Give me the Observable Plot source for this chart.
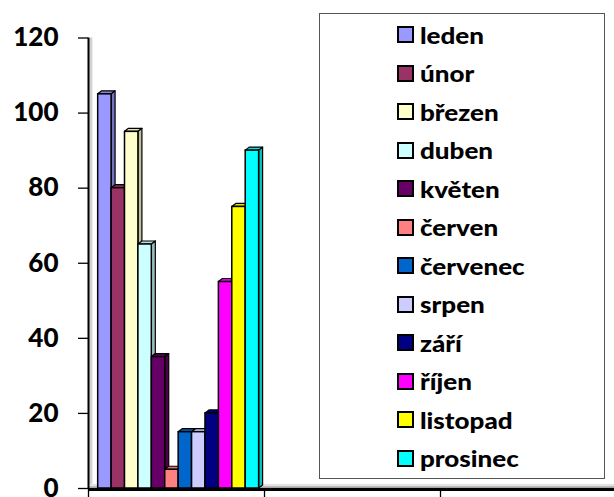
<!DOCTYPE html>
<html><head><meta charset="utf-8">
<script src="https://cdn.jsdelivr.net/npm/d3@7"></script>
<script src="https://cdn.jsdelivr.net/npm/@observablehq/plot@0.6"></script>
<style>
body{margin:0;background:#fff;}
#wrap{position:relative;width:614px;height:497px;overflow:hidden;font-family:Lato, sans-serif;}
#chart{position:absolute;left:0;top:0;}
#legend{position:absolute;left:319px;top:13px;width:286px;height:466px;border:1.5px solid #555;box-sizing:border-box;background:#fff;}
.item{position:absolute;left:77px;height:22px;display:flex;align-items:center;font-weight:900;font-size:23px;color:#000;white-space:nowrap;}
.sw{width:13px;height:13px;border:2px solid #000;margin-right:6px;flex:none;}
.tx{display:inline-block;transform:scaleX(1.13);transform-origin:left center;}
</style></head><body>
<div id="wrap"><div id="chart"></div><div id="legend"></div></div>
<script>
const months = ["leden","únor","březen","duben","květen","červen","červenec","srpen","září","říjen","listopad","prosinec"];
const values = [105, 80, 95, 65, 35, 5, 15, 15, 20, 55, 75, 90];
const colors = ["#9999FF","#993366","#FFFFCC","#CCFFFF","#660066","#FF8080","#0066CC","#CCCCFF","#000080","#FF00FF","#FFFF00","#00FFFF"];
const yTicks = [0, 20, 40, 60, 80, 100, 120];
const groupTicks = [0, 1, 2, 3];

// layout (in x units: one category = 1)
const start = 0.055, bw = 0.0762, depthX = 0.0227, depthY = 0.8;

const bars = months.map((m, i) => ({
  month: m, value: values[i], color: colors[i],
  side: d3.color(colors[i]).darker(0.8).formatHex(),
  top: d3.color(colors[i]).darker(0.35).formatHex(),
  x1: start + i * bw, x2: start + (i + 1) * bw
}));
const sidePts = bars.flatMap(b => [
  {month: b.month, fill: b.side, x: b.x2, y1: 0, y2: b.value},
  {month: b.month, fill: b.side, x: b.x2 + depthX, y1: depthY, y2: b.value + depthY}
]);
const topPts = bars.flatMap(b => [
  {month: b.month, fill: b.top, y: b.value, x1: b.x1, x2: b.x2},
  {month: b.month, fill: b.top, y: b.value + depthY, x1: b.x1 + depthX, x2: b.x2 + depthX}
]);

const chart = Plot.plot({
  width: 614, height: 497,
  marginLeft: 88, marginRight: -2, marginTop: 37.5, marginBottom: 9,
  x: {domain: [0, 3], axis: null},
  y: {domain: [0, 120], axis: null},
  style: {fontFamily: "Lato, sans-serif", background: "transparent", overflow: "visible"},
  marks: [
    Plot.rect([0], {x1: 0, x2: 0.025, y1: 0, y2: 120, fill: "#d2d2d2"}),
    Plot.rect([0], {x1: 0, x2: 3, y1: 0, y2: 1.1, fill: "#e4e4e4"}),
    Plot.rect([0], {x1: 0, x2: 3, y1: 0, y2: 0.45, fill: "#a8a8a8"}),
    Plot.areaY(sidePts, {x: "x", y1: "y1", y2: "y2", z: "month", fill: "fill", stroke: "black", strokeWidth: 1.2}),
    Plot.areaX(topPts, {y: "y", x1: "x1", x2: "x2", z: "month", fill: "fill", stroke: "black", strokeWidth: 1.2}),
    Plot.rect(bars, {x1: "x1", x2: "x2", y1: 0, y2: "value", fill: "color", stroke: "black", strokeWidth: 1.5}),
    Plot.ruleY([0], {stroke: "black", strokeWidth: 3, dy: 1}),
    Plot.ruleX([0], {y1: 0, y2: 120, stroke: "black", strokeWidth: 2}),
    Plot.axisY({ticks: yTicks, tickSize: 10, tickPadding: 20, fontSize: 26, fontWeight: 900, stroke: "black", strokeWidth: 1.3}),
    Plot.axisX({ticks: groupTicks, tickSize: 8, tickFormat: () => "", stroke: "black", strokeWidth: 1.3, dy: 1})
  ]
});
document.getElementById("chart").appendChild(chart);

const legend = document.getElementById("legend");
months.forEach((m, i) => {
  const it = document.createElement("div");
  it.className = "item";
  it.style.top = (35 + i * 38.5 - 13 - 1.5 - 11) + "px";
  const sw = document.createElement("span");
  sw.className = "sw";
  sw.style.background = colors[i];
  const t = document.createElement("span");
  t.className = "tx";
  t.textContent = m;
  it.appendChild(sw); it.appendChild(t);
  legend.appendChild(it);
});
</script>
</body></html>
